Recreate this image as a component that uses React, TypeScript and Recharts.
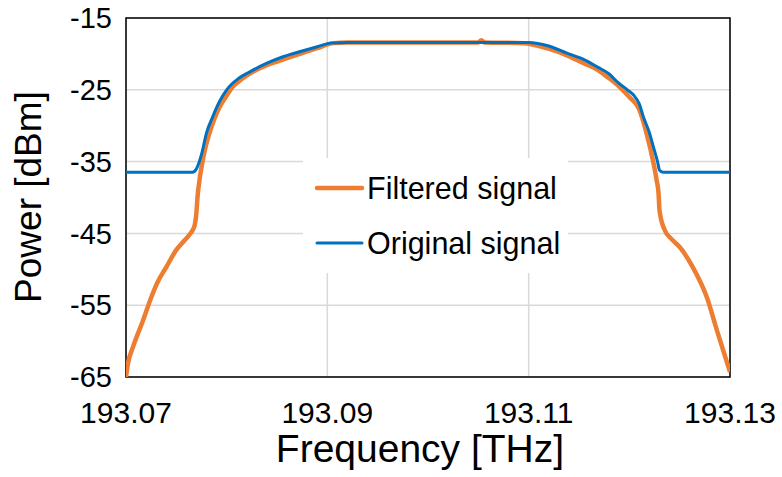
import React from "react";
import { LineChart, Line, XAxis, YAxis, CartesianGrid, ReferenceArea, Legend } from "recharts";

// frequency in THz, power in dBm
const originalFreq = [
  193.07, 193.0766, 193.077, 193.0775, 193.078, 193.0786, 193.0793, 193.08, 193.0812, 193.0823,
  193.084, 193.0856, 193.0875, 193.089, 193.0903, 193.092, 193.11,
  193.112, 193.1138, 193.1155, 193.1168, 193.118, 193.1188, 193.1198, 193.1204, 193.121, 193.1214,
  193.122, 193.1224, 193.1228, 193.123, 193.1234, 193.13,
];
const originalPower = [
  -36.5, -36.5, -36.0, -34.0, -31.0, -28.8, -26.6, -25.0, -23.4, -22.5,
  -21.3, -20.4, -19.6, -19.0, -18.5, -18.4, -18.4,
  -18.9, -19.9, -20.8, -21.8, -22.8, -23.9, -25.0, -25.7, -27.0, -28.8,
  -31.0, -33.0, -35.0, -36.2, -36.5, -36.5,
];

const filteredFreq = [
  193.07, 193.0702, 193.0707, 193.0717, 193.0724, 193.0731, 193.074, 193.075, 193.0758, 193.0764,
  193.0768, 193.077, 193.0771, 193.0773, 193.0776, 193.0779, 193.0783, 193.0788, 193.0793, 193.08,
  193.0806, 193.0815, 193.0826, 193.0843, 193.086, 193.0875, 193.089, 193.0906, 193.092, 193.105,
  193.1053, 193.1056, 193.1095, 193.1118, 193.1138, 193.1153, 193.1168, 193.1178, 193.1188, 193.12,
  193.121, 193.1217, 193.1224, 193.1227, 193.1229, 193.123, 193.1235, 193.1242, 193.125, 193.1263,
  193.1277, 193.1287, 193.13,
];
const filteredPower = [
  -65.0, -63.1, -60.8, -57.1, -54.3, -51.9, -49.7, -47.3, -46.0, -45.0,
  -44.0, -42.0, -40.0, -37.6, -35.0, -33.0, -31.0, -29.0, -27.4, -25.8,
  -24.6, -23.5, -22.5, -21.4, -20.6, -19.9, -19.2, -18.5, -18.4, -18.4,
  -18.1, -18.4, -18.5, -19.2, -20.2, -21.2, -22.2, -23.2, -24.3, -26.0,
  -27.8, -31.0, -35.2, -37.5, -39.4, -41.8, -44.5, -45.8, -46.9, -49.7,
  -53.9, -58.5, -64.3,
];

const xTicks = [193.07, 193.09, 193.11, 193.13];
const yTicks = [-65, -55, -45, -35, -25, -15];

const original = originalFreq.map((f, i) => ({ f, p: originalPower[i] }));
const filtered = filteredFreq.map((f, i) => ({ f, p: filteredPower[i] }));

const FONT = "'Liberation Sans', Arial, sans-serif";

const LegendBox = (props: any) => {
  const { payload } = props;
  return (
    <svg width={265} height={115} style={{ display: "block", background: "#fff" }}>
      {(payload || []).map((item: any, i: number) => (
        <g key={item.value}>
          <line x1={14} x2={59} y1={30 + i * 55} y2={30 + i * 55} stroke={item.color} strokeWidth={i === 0 ? 4.5 : 3} strokeLinecap="round" />
          <text x={64} y={30 + i * 55} dy="0.36em" fontSize={30.5} fontFamily={FONT} fill="#000">
            {item.value}
          </text>
        </g>
      ))}
    </svg>
  );
};

export default function App() {
  return (
    <div style={{ position: "absolute", left: 0, top: 0, width: 782, height: 477, background: "#fff" }}>
      <LineChart width={782} height={477} margin={{ top: 18, right: 52, left: 0, bottom: 0 }}>
        <CartesianGrid stroke="#d9d9d9" strokeWidth={1.5} />
        <XAxis
          type="number"
          dataKey="f"
          domain={[193.07, 193.13]}
          ticks={xTicks}
          tickFormatter={(v: number) => v.toFixed(2)}
          allowDataOverflow
          axisLine={false}
          tickLine={false}
          tickSize={0}
          tickMargin={25}
          height={100}
          tick={{ fill: "#000", fontSize: 30, fontFamily: FONT }}
          label={{
            content: (p: any) => (
              <text x={p.viewBox.x + p.viewBox.width / 2 - 8} y={462} textAnchor="middle" fontSize={39} fontFamily={FONT} fill="#000">
                Frequency [THz]
              </text>
            ),
          }}
        />
        <YAxis
          type="number"
          domain={[-65, -15]}
          ticks={yTicks}
          allowDataOverflow
          axisLine={false}
          tickLine={false}
          tickSize={0}
          tickMargin={14}
          width={126}
          tick={{ fill: "#000", fontSize: 29, fontFamily: FONT }}
          label={{
            content: () => (
              <text x={28} y={197} transform="rotate(-90 28 197)" textAnchor="middle" dominantBaseline="central" fontSize={37} fontFamily={FONT} fill="#000">
                Power [dBm]
              </text>
            ),
          }}
        />
        <Line
          data={filtered}
          dataKey="p"
          name="Filtered signal"
          type="monotone"
          stroke="#ED7D31"
          strokeWidth={4.5}
          dot={false}
          activeDot={false}
          isAnimationActive={false}
        />
        <Line
          data={original}
          dataKey="p"
          name="Original signal"
          type="monotone"
          stroke="#0070C0"
          strokeWidth={3}
          dot={false}
          activeDot={false}
          isAnimationActive={false}
        />
        <ReferenceArea x1={193.07} x2={193.13} y1={-65} y2={-15} fill="none" stroke="#000" strokeWidth={1.5} ifOverflow="visible" />
        <Legend
          layout="vertical"
          align="center"
          verticalAlign="middle"
          content={<LegendBox />}
          wrapperStyle={{ left: 303, top: 158, width: 265, height: 115 }}
        />
      </LineChart>
    </div>
  );
}
